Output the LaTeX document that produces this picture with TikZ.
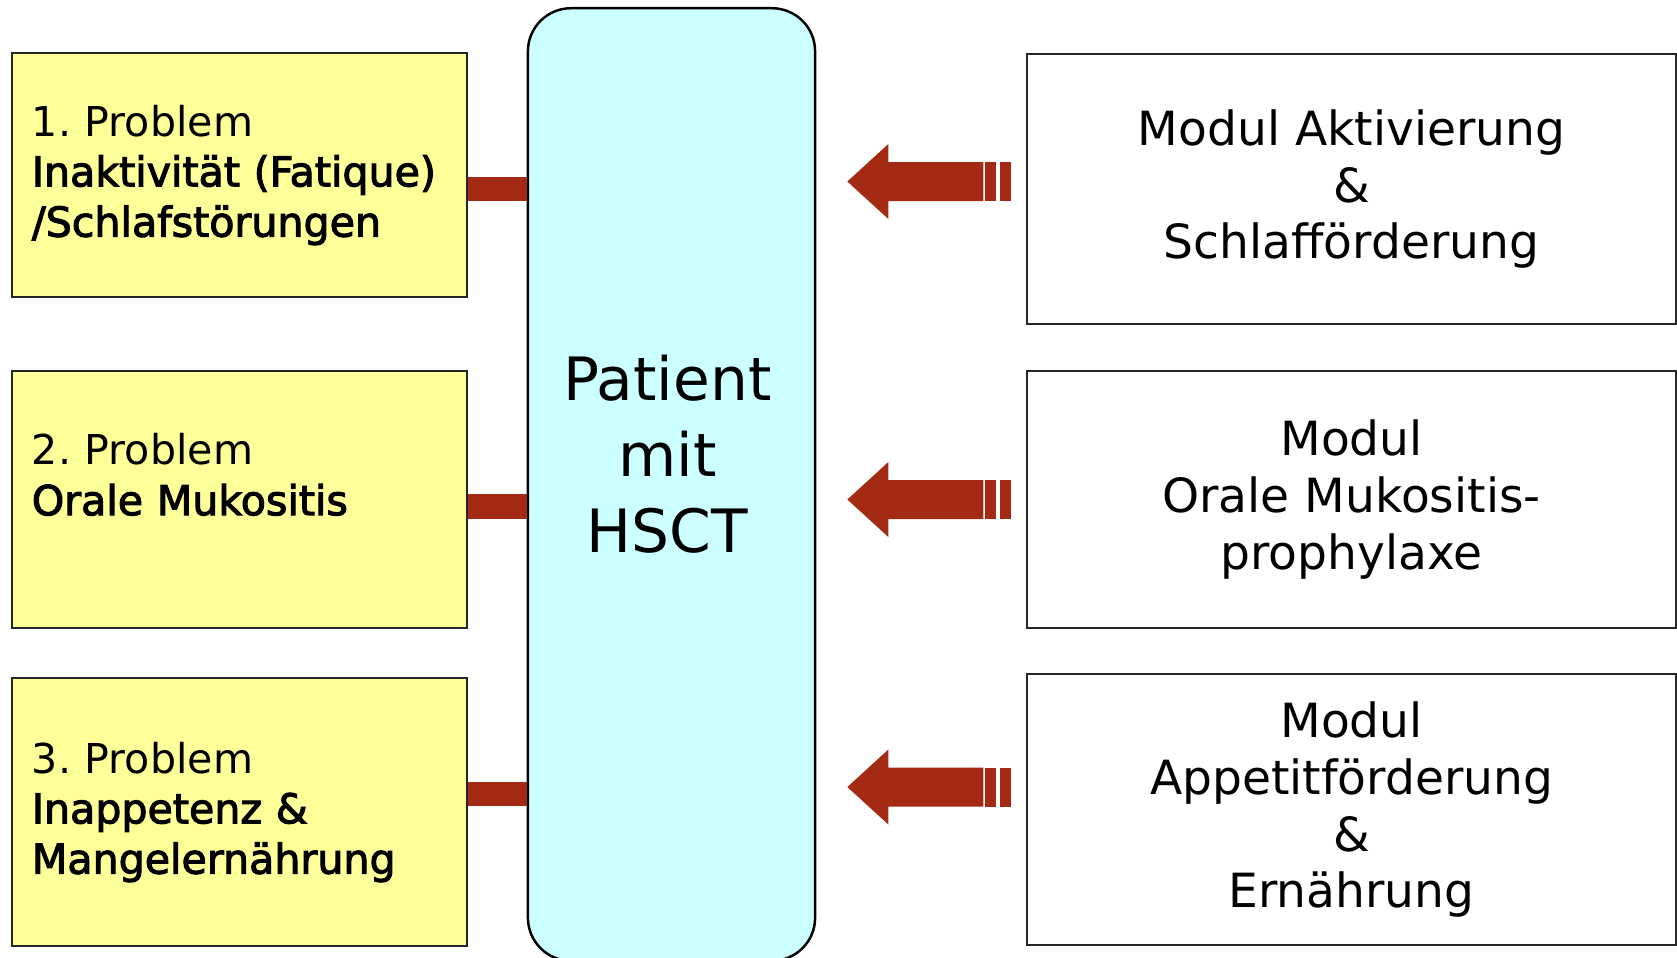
\documentclass[tikz,border=0pt]{standalone}
\usepackage{fontspec}
\setmainfont{DejaVu Sans}
\newfontfamily\fatfont[FakeBold=2.6]{DejaVu Sans}
\usetikzlibrary{positioning,calc}
\definecolor{probyellow}{RGB}{255,255,153}
\definecolor{patcyan}{RGB}{204,255,255}
\definecolor{linkred}{RGB}{165,42,20}
\frenchspacing
\tikzset{
  probbox/.style={draw=black!85,line width=0.6pt,fill=probyellow,
    minimum width=4.55cm,text width=4.15cm,inner xsep=0.2cm,align=left,
    font=\fontsize{11.7}{14.3}\selectfont},
  modbox/.style={draw=black!85,line width=0.6pt,fill=white,
    minimum width=6.49cm,align=center,font=\fontsize{13.4}{16.2}\selectfont},
  patbox/.style={draw=black,line width=0.7pt,fill=patcyan,rounded corners=0.43cm,
    minimum width=2.87cm,minimum height=9.52cm},
  link/.style={linkred,line width=0.245cm},
}
\begin{document}
\begin{tikzpicture}[x=0.01cm,y=-0.01cm]
    \useasboundingbox (0,0) rectangle (1677,957);
    % patient in the middle
    \node[patbox] (pat) at (671.5,484.5) {};
    \node[align=center,font=\fontsize{17}{21.6}\selectfont] (pattext) at ([xshift=-0.04cm,yshift=0.3cm]pat.center) {Patient\\mit\\HSCT};
    % problems
    \node[probbox,minimum height=2.43cm] (p1) at (239.5,175) {1. Problem\\{\fatfont Inaktivität (Fatique)}\\{\fatfont /Schlafstörungen}};
    \node[probbox,minimum height=2.57cm] (p2) at (239.5,499.5) {2. Problem\\{\fatfont Orale Mukositis}\\\mbox{}};
    \node[probbox,minimum height=2.67cm] (p3) at (239.5,812) {3. Problem\\{\fatfont Inappetenz \&}\\{\fatfont Mangelernährung}};
    % modules
    \node[modbox,minimum height=2.70cm] (m1) at (1351.5,189) {Modul Aktivierung\\\&\\Schlafförderung};
    \node[modbox,minimum height=2.57cm] (m2) at (1351.5,499.5) {Modul\\Orale Mukositis-\\prophylaxe};
    \node[modbox,minimum height=2.71cm] (m3) at (1351.5,809.5) {Modul\\Appetitförderung\\\&\\Ernährung};
    % links problem -- patient
    \draw[link] (p1.east |- 0,189) -- (pat.west |- 0,189);
    \draw[link] (p2.east |- 0,506.5) -- (pat.west |- 0,506.5);
    \draw[link] (p3.east |- 0,794) -- (pat.west |- 0,794);
    % block arrows module -> patient
    \foreach \m/\ay in {m1/181.5,m2/499.5,m3/787}{
      \coordinate (tip) at ([xshift=0.31cm]pat.east |- 0,\ay);
      \fill[linkred] (tip) -- ++(41,-37.5) -- ++(0,18) -- ++(95,0) -- ++(0,39) -- ++(-95,0) -- ++(0,18) -- cycle;
      \fill[linkred] ([xshift=-0.41cm]\m.west |- 0,\ay) ++(0,-19.5) rectangle ++(11,39);
      \fill[linkred] ([xshift=-0.26cm]\m.west |- 0,\ay) ++(0,-19.5) rectangle ++(11,39);
    }
\end{tikzpicture}
\end{document}
